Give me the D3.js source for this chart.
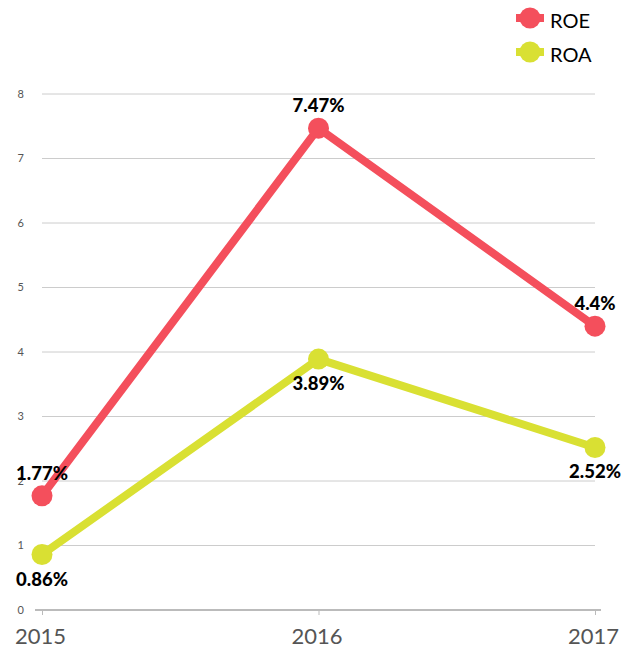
<!DOCTYPE html>
<html><head><meta charset="utf-8">
<script src="https://cdn.jsdelivr.net/npm/d3@7"></script>
<style>body{margin:0;background:#fff;}svg{display:block;}</style>
</head><body>
<svg id="c" width="630" height="647"></svg>
<script>
const years = ["2015","2016","2017"];
const roe = [1.77, 7.47, 4.4];
const roa = [0.86, 3.89, 2.52];
const yTicks = [0,1,2,3,4,5,6,7,8];
const seriesNames = ["ROE","ROA"];
const seriesColors = ["#f44f5c","#d9e033"];

const svg = d3.select("#c");
const x = d3.scalePoint().domain(years).range([42, 595]);
const y = d3.scaleLinear().domain([0, 8]).range([610, 94]);

// gridlines
svg.append("g").selectAll("line").data(yTicks.filter(d=>d>0)).join("line")
  .attr("x1", 42).attr("x2", 595)
  .attr("y1", d=>y(d)).attr("y2", d=>y(d))
  .attr("stroke", "#cccccc").attr("stroke-width", 1);

// y tick labels
svg.append("g").selectAll("text").data(yTicks).join("text")
  .attr("x", 24).attr("y", d=>y(d)).attr("dy", "0.35em")
  .attr("text-anchor", "end")
  .attr("font-family", "Lato, 'Open Sans', sans-serif").attr("font-size", 11)
  .attr("fill", "#555").text(d=>d);

// x axis
const xa = svg.append("g").attr("transform", "translate(0,610)")
  .call(d3.axisBottom(x).tickSize(5).tickPadding(14).tickSizeOuter(0));
xa.select(".domain").remove();
xa.append("line").attr("x1", 35).attr("x2", 601).attr("y1", 0).attr("y2", 0)
  .attr("stroke", "#bbbbbb").attr("stroke-width", 2);
xa.selectAll(".tick line").attr("stroke", "#bbbbbb").attr("stroke-width", 1);
xa.selectAll(".tick text").attr("font-family", "Lato, 'Open Sans', sans-serif")
  .attr("font-size", 22).attr("fill", "#555").attr("dx", "-2")
  .attr("y", 34).attr("dy", 0);

const series = [
  {name: seriesNames[0], values: roe, color: seriesColors[0], above: true},
  {name: seriesNames[1], values: roa, color: seriesColors[1], above: false}
];
const line = d3.line().x((d,i)=>x(years[i])).y(d=>y(d));

series.forEach(s => {
  svg.append("path").datum(s.values).attr("d", line)
    .attr("fill", "none").attr("stroke", s.color).attr("stroke-width", 8)
    .attr("stroke-linejoin", "round");
});
series.forEach(s => {
  svg.append("g").selectAll("circle").data(s.values).join("circle")
    .attr("cx", (d,i)=>x(years[i])).attr("cy", d=>y(d)).attr("r", 10.5)
    .attr("fill", s.color);
});
series.forEach(s => {
  svg.append("g").selectAll("text").data(s.values).join("text")
    .attr("x", (d,i)=>x(years[i])).attr("y", d=>y(d) + (s.above ? -16 : 31))
    .attr("text-anchor", "middle")
    .attr("font-family", "Lato, 'Open Sans', sans-serif").attr("font-weight", "900")
    .attr("font-size", 18.5).attr("fill", "#000")
    .text(d=>d + "%");
});

// legend
const lg = svg.append("g");
series.forEach((s, i) => {
  const cy = 18 + i*34;
  lg.append("line").attr("x1", 516).attr("x2", 544).attr("y1", cy).attr("y2", cy)
    .attr("stroke", s.color).attr("stroke-width", 8);
  lg.append("circle").attr("cx", 530).attr("cy", cy).attr("r", 10.5).attr("fill", s.color);
  lg.append("text").attr("x", 550).attr("y", cy + 10)
    .attr("font-family", "Lato, 'Open Sans', sans-serif").attr("font-size", 20)
    .attr("fill", "#000").text(s.name);
});
</script>
</body></html>
